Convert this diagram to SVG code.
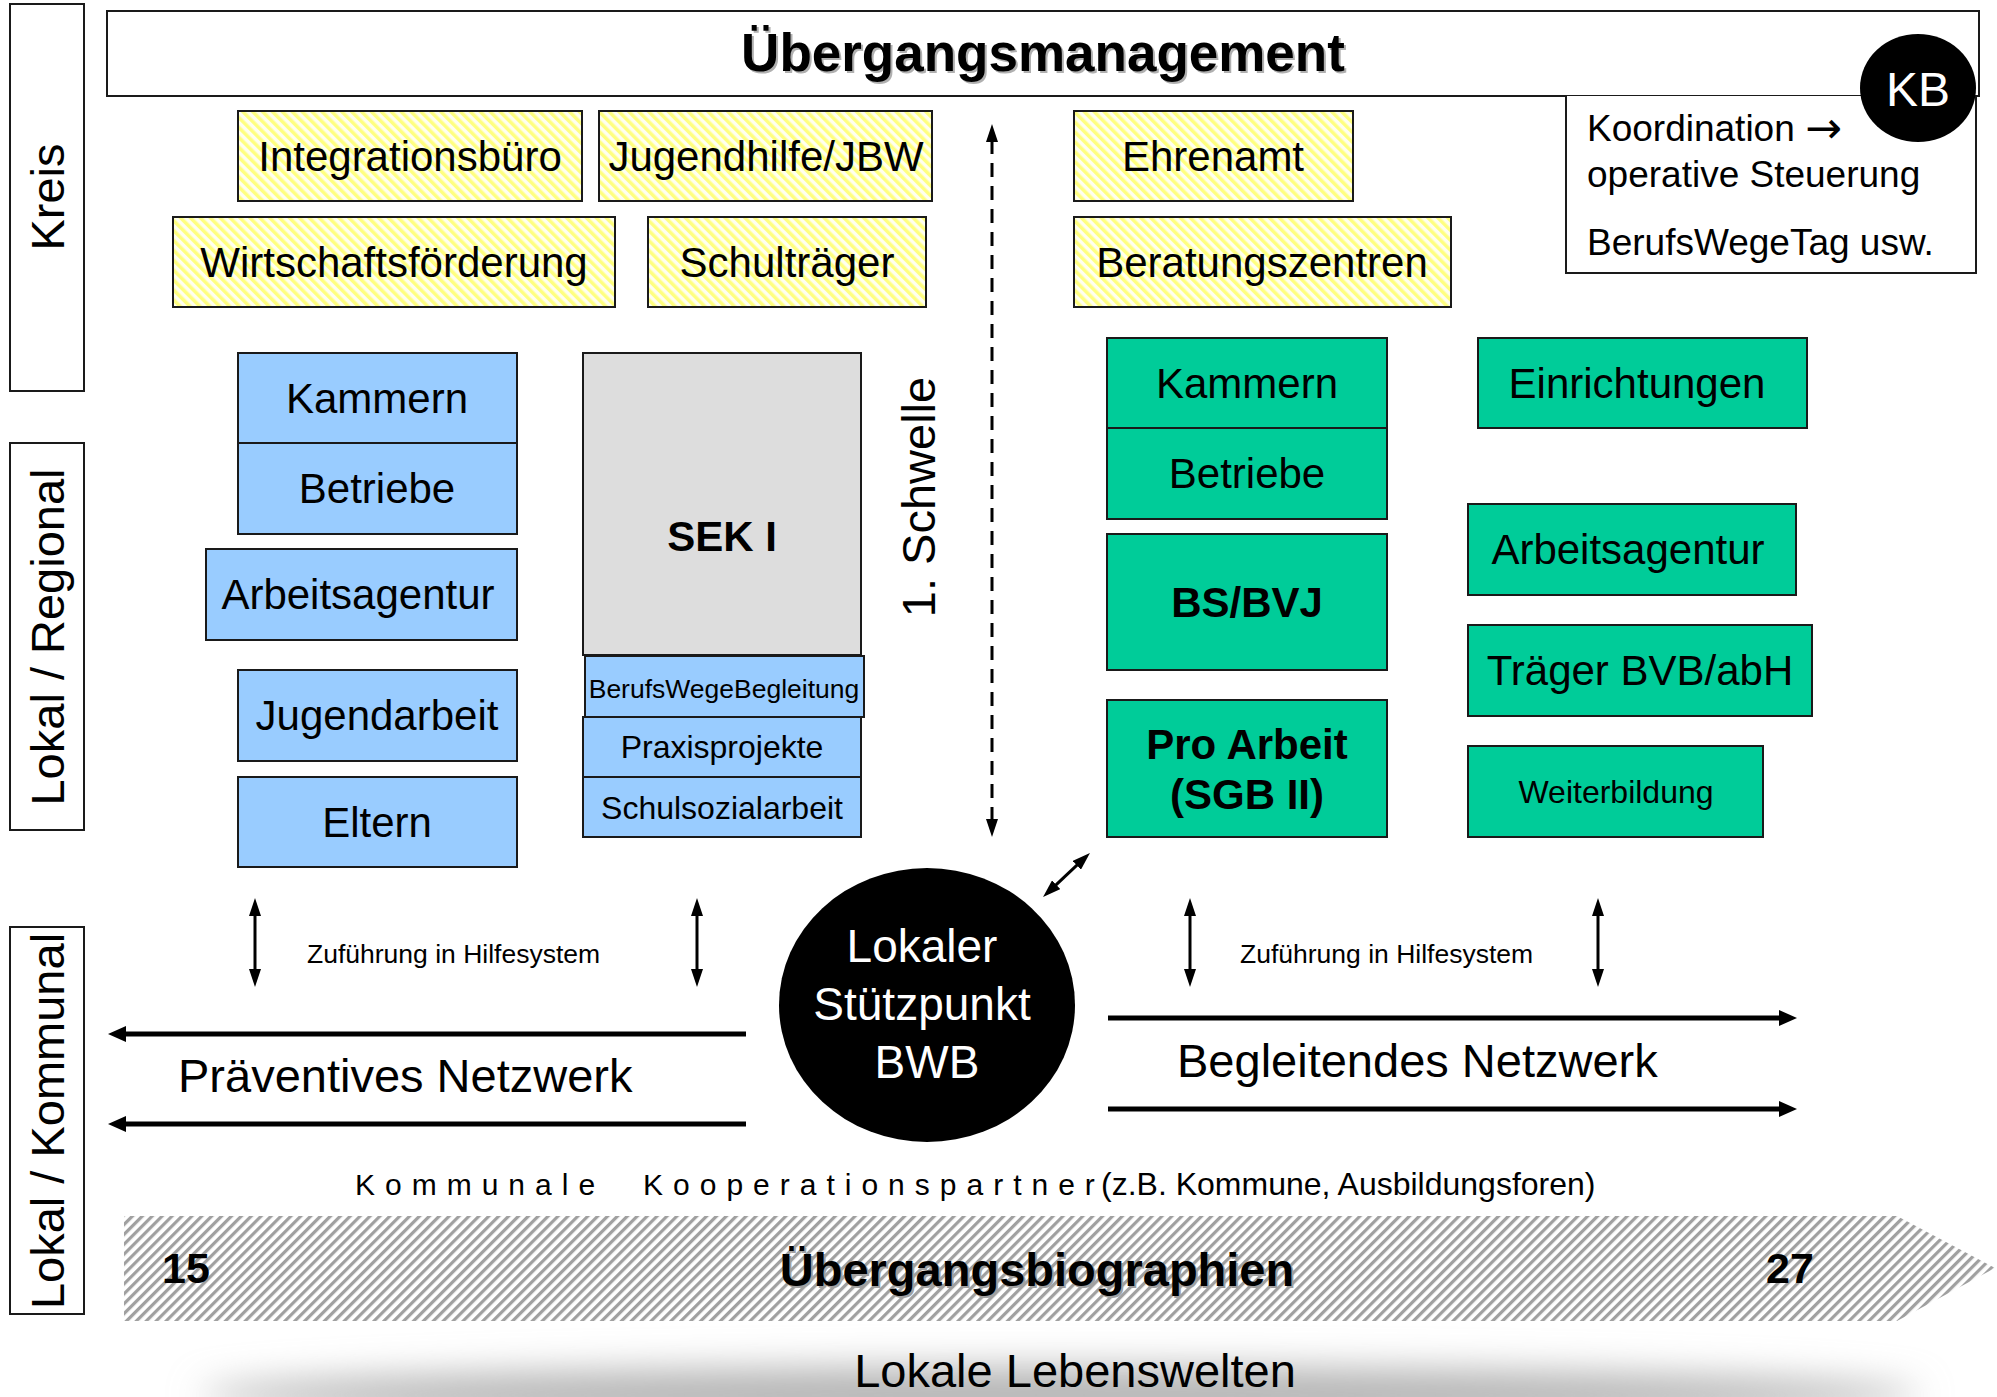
<svg xmlns="http://www.w3.org/2000/svg" width="1997" height="1397" viewBox="0 0 1997 1397">
<defs>
<style>
text { font-family: "Liberation Sans", Arial, sans-serif; fill:#000; }
.box { stroke:#1a1a1a; stroke-width:2; }
.yel { fill:url(#yh); }
.blue { fill:#99CCFF; }
.green { fill:#00CC99; }
.gray { fill:#DDDDDD; }
.lbl { fill:#fff; stroke:#1a1a1a; stroke-width:2; }
.c { text-anchor:middle; }
.f42 { font-size:42px; }
.f47 { font-size:47px; }
.f32 { font-size:32px; }
.b { font-weight:bold; }
.arr { stroke:#000; stroke-width:3; fill:none; marker-start:url(#a1); marker-end:url(#a1); }
.net { stroke:#000; stroke-width:5; fill:none; marker-end:url(#a2); }
</style>
<pattern id="yh" patternUnits="userSpaceOnUse" width="7" height="7" patternTransform="rotate(-45)">
<rect width="7" height="7" fill="#FFFFF0"/>
<rect width="3.5" height="7" fill="#FFFF80"/>
</pattern>
<pattern id="gh" patternUnits="userSpaceOnUse" width="7" height="7" patternTransform="rotate(45)">
<rect width="7" height="7" fill="#ffffff"/>
<rect width="3.2" height="7" fill="#a0a0a0"/>
</pattern>
<marker id="a1" viewBox="0 0 18 12" markerWidth="18" markerHeight="12" refX="2" refY="6" orient="auto-start-reverse" markerUnits="userSpaceOnUse">
<path d="M0,0 L18,6 L0,12 z" fill="#000"/>
</marker>
<marker id="a2" viewBox="0 0 18 16" markerWidth="18" markerHeight="16" refX="2" refY="8" orient="auto" markerUnits="userSpaceOnUse">
<path d="M0,0 L18,8 L0,16 z" fill="#000"/>
</marker>
<filter id="blur" x="-20%" y="-300%" width="140%" height="700%">
<feGaussianBlur stdDeviation="18"/>
</filter>
</defs>

<!-- Level labels -->
<g id="label-kreis">
<rect class="lbl" x="10" y="4" width="74" height="387"/>
<text class="c f47" transform="translate(64,197) rotate(-90)">Kreis</text>
</g>
<g id="label-lokal-regional">
<rect class="lbl" x="10" y="443" width="74" height="387"/>
<text class="c f47" transform="translate(64,637) rotate(-90)">Lokal / Regional</text>
</g>
<g id="label-lokal-kommunal">
<rect class="lbl" x="10" y="927" width="74" height="387"/>
<text class="c f47" transform="translate(64,1121) rotate(-90)">Lokal / Kommunal</text>
</g>

<!-- Title -->
<g id="uebergangsmanagement">
<rect x="107" y="11" width="1872" height="85" fill="#fff" stroke="#1a1a1a" stroke-width="2"/>
<text class="c b" x="1045" y="73" font-size="53" style="fill:#b0b0b0">Übergangsmanagement</text>
<text class="c b" x="1043" y="71" font-size="53">Übergangsmanagement</text>
</g>

<g id="koordination">
<path d="M1566,96 V273 H1976 V96" fill="#fff" stroke="#1a1a1a" stroke-width="2"/>
<text x="1587" y="141" font-size="37">Koordination <tspan font-family="DejaVu Sans" font-size="44" dy="2">→</tspan></text>
<text x="1587" y="187" font-size="37">operative Steuerung</text>
<text x="1587" y="255" font-size="37">BerufsWegeTag usw.</text>
</g>
<g id="kb">
<ellipse cx="1918" cy="88" rx="58" ry="54" fill="#000"/>
<text class="c" x="1918" y="106" font-size="48" style="fill:#fff">KB</text>
</g>

<!-- Kreis level (yellow hatched) -->
<g id="integrationsbuero"><rect class="box yel" x="238" y="111" width="344" height="90"/><text class="c f42" x="410" y="171">Integrationsbüro</text></g>
<g id="jugendhilfe"><rect class="box yel" x="599" y="111" width="333" height="90"/><text class="c f42" x="766" y="171">Jugendhilfe/JBW</text></g>
<g id="wirtschaftsfoerderung"><rect class="box yel" x="173" y="217" width="442" height="90"/><text class="c f42" x="394" y="277">Wirtschaftsförderung</text></g>
<g id="schultraeger"><rect class="box yel" x="648" y="217" width="278" height="90"/><text class="c f42" x="787" y="277">Schulträger</text></g>
<g id="ehrenamt"><rect class="box yel" x="1074" y="111" width="279" height="90"/><text class="c f42" x="1213" y="171">Ehrenamt</text></g>
<g id="beratungszentren"><rect class="box yel" x="1074" y="217" width="377" height="90"/><text class="c f42" x="1262" y="277">Beratungszentren</text></g>

<!-- Left (blue) -->
<g id="kammern-l"><rect class="box blue" x="238" y="353" width="279" height="90"/><text class="c f42" x="377" y="413">Kammern</text></g>
<g id="betriebe-l"><rect class="box blue" x="238" y="443" width="279" height="91"/><text class="c f42" x="377" y="503">Betriebe</text></g>
<g id="arbeitsagentur-l"><rect class="box blue" x="206" y="549" width="311" height="91"/><text class="c f42" x="358" y="609">Arbeitsagentur</text></g>
<g id="jugendarbeit"><rect class="box blue" x="238" y="670" width="279" height="91"/><text class="c f42" x="377" y="730">Jugendarbeit</text></g>
<g id="eltern"><rect class="box blue" x="238" y="777" width="279" height="90"/><text class="c f42" x="377" y="837">Eltern</text></g>

<g id="sek1"><rect class="box gray" x="583" y="353" width="278" height="302"/><text class="c f42 b" x="722" y="551">SEK I</text></g>
<g id="berufswegebegleitung"><rect class="box blue" x="585" y="656" width="279" height="61"/><text class="c" x="724" y="698" font-size="26.5">BerufsWegeBegleitung</text></g>
<g id="praxisprojekte"><rect class="box blue" x="583" y="717" width="278" height="60"/><text class="c f32" x="722" y="758">Praxisprojekte</text></g>
<g id="schulsozialarbeit"><rect class="box blue" x="583" y="777" width="278" height="60"/><text class="c f32" x="722" y="819">Schulsozialarbeit</text></g>

<text id="schwelle" class="c f47" transform="translate(935,497) rotate(-90)">1. Schwelle</text>

<!-- Right (green) -->
<g id="kammern-r"><rect class="box green" x="1107" y="338" width="280" height="90"/><text class="c f42" x="1247" y="398">Kammern</text></g>
<g id="betriebe-r"><rect class="box green" x="1107" y="428" width="280" height="91"/><text class="c f42" x="1247" y="488">Betriebe</text></g>
<g id="bsbvj"><rect class="box green" x="1107" y="534" width="280" height="136"/><text class="c f42 b" x="1247" y="617">BS/BVJ</text></g>
<g id="proarbeit"><rect class="box green" x="1107" y="700" width="280" height="137"/><text class="c f42 b" x="1247" y="759">Pro Arbeit</text><text class="c f42 b" x="1247" y="809">(SGB II)</text></g>
<g id="einrichtungen"><rect class="box green" x="1478" y="338" width="329" height="90"/><text class="c f42" x="1637" y="398">Einrichtungen</text></g>
<g id="arbeitsagentur-r"><rect class="box green" x="1468" y="504" width="328" height="91"/><text class="c f42" x="1628" y="564">Arbeitsagentur</text></g>
<g id="traeger"><rect class="box green" x="1468" y="625" width="344" height="91"/><text class="c f42" x="1640" y="685">Träger BVB/abH</text></g>
<g id="weiterbildung"><rect class="box green" x="1468" y="746" width="295" height="91"/><text class="c f32" x="1616" y="803">Weiterbildung</text></g>

<!-- Centre -->
<g id="stuetzpunkt">
<ellipse cx="927" cy="1005" rx="148" ry="137" fill="#000"/>
<text class="c" x="922" y="962" font-size="46" style="fill:#fff">Lokaler</text>
<text class="c" x="922" y="1020" font-size="46" style="fill:#fff">Stützpunkt</text>
<text class="c" x="927" y="1078" font-size="46" style="fill:#fff">BWB</text>
</g>

<!-- Connectors -->
<g id="connectors">
<line class="arr" x1="992" y1="140" x2="992" y2="821" stroke-dasharray="14 9"/>
<line class="arr" x1="1054.7" y1="886.1" x2="1078.3" y2="863.9"/>
<line class="arr" x1="255" y1="914" x2="255" y2="971"/>
<line class="arr" x1="697" y1="914" x2="697" y2="971"/>
<line class="arr" x1="1190" y1="914" x2="1190" y2="971"/>
<line class="arr" x1="1598" y1="914" x2="1598" y2="971"/>
<line class="net" x1="746" y1="1034" x2="124" y2="1034"/>
<line class="net" x1="746" y1="1124" x2="124" y2="1124"/>
<line class="net" x1="1108" y1="1018" x2="1781" y2="1018"/>
<line class="net" x1="1108" y1="1109" x2="1781" y2="1109"/>
</g>

<text x="307" y="963" font-size="26.5">Zuführung in Hilfesystem</text>
<text x="1240" y="963" font-size="26.5">Zuführung in Hilfesystem</text>
<text class="f47" x="178" y="1092">Präventives Netzwerk</text>
<text x="1177" y="1077" font-size="47">Begleitendes Netzwerk</text>

<text x="355" y="1195" font-size="30" letter-spacing="10">Kommunale</text>
<text x="643" y="1195" font-size="30" letter-spacing="10">Kooperationspartner</text>
<text x="1101" y="1195" font-size="32">(z.B. Kommune, Ausbildungsforen)</text>

<!-- Biography arrow -->
<g id="uebergangsbiographien">
<polygon points="124,1216 1897,1216 1995,1268 1897,1321 124,1321" fill="url(#gh)"/>
<text class="b" x="162" y="1283" font-size="43">15</text>
<text class="b" x="1766" y="1283" font-size="43">27</text>
<text class="c b" x="1039" y="1288" font-size="47" style="fill:#a0a0a0">Übergangsbiographien</text>
<text class="c b" x="1037" y="1286" font-size="47">Übergangsbiographien</text>
</g>

<g id="lebenswelten">
<ellipse cx="1060" cy="1395" rx="860" ry="28" fill="#b4b4b4" filter="url(#blur)"/>
<text class="c f47" x="1075" y="1387">Lokale Lebenswelten</text>
</g>
</svg>
